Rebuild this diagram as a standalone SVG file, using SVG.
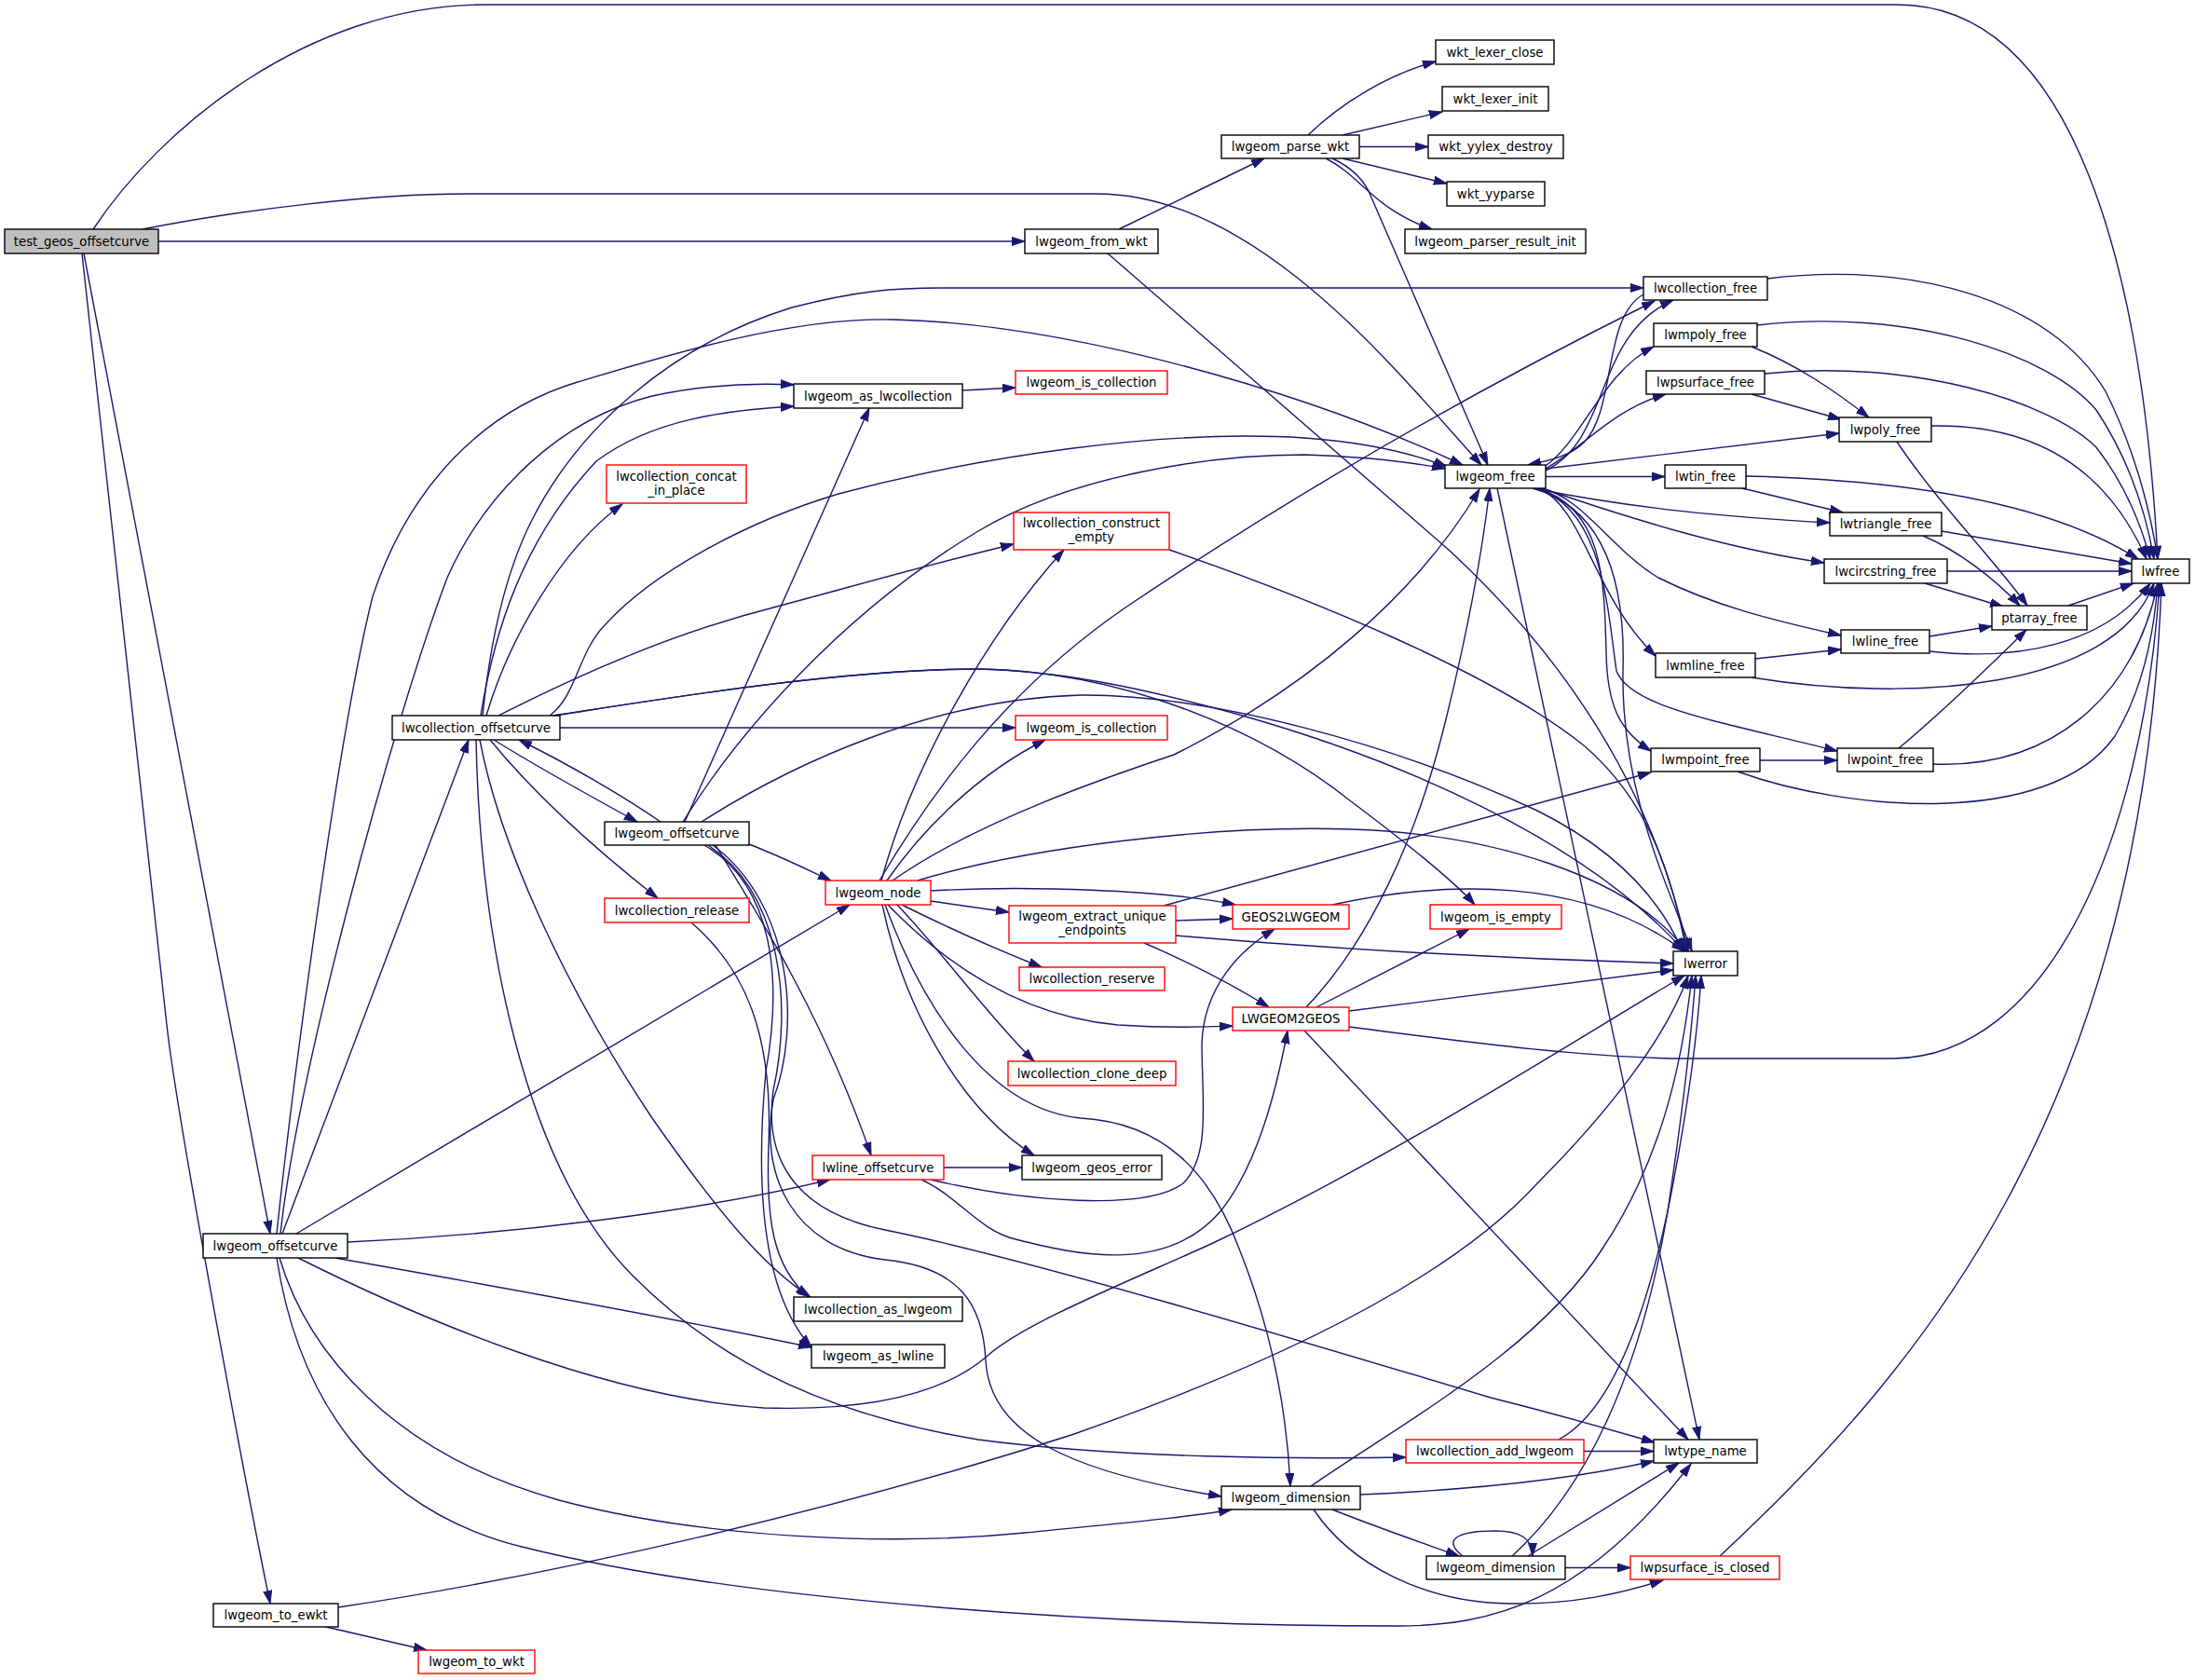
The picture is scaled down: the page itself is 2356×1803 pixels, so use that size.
<svg xmlns="http://www.w3.org/2000/svg" width="2356" height="1803" viewBox="0 0 2356 1803">
<defs>
<style>
.e{fill:none;stroke:#191970;stroke-width:1.4;marker-end:url(#a)}
.n rect{fill:#ffffff;stroke:#000000;stroke-width:1.4}
.n.r rect{stroke:#ff0000}
.n.g rect{fill:#bfbfbf}
.n text{font-family:"DejaVu Sans","Liberation Sans",sans-serif;font-size:13.3px;text-anchor:middle;fill:#000000}
</style>
<marker id="a" markerWidth="15" markerHeight="11" refX="14" refY="5" orient="auto" markerUnits="userSpaceOnUse"><path d="M0,0.5 L14,5 L0,9.5 z" fill="#191970" stroke="#191970" stroke-width="1"/></marker>
</defs>
<rect x="0" y="0" width="2356" height="1803" fill="#ffffff"/>
<g id="edges">
<path class="e" d="M100,246 C170,140 330,5 520,5 L2036,5 C2230,5 2300,300 2316,600"/>
<path class="e" d="M153,246 C260,225 400,208 500,208 L1177,208 C1350,208 1500,400 1590,499"/>
<path class="e" d="M170,259 L1100,259"/>
<path class="e" d="M90,272 L290,1324"/>
<path class="e" d="M88,272 L179,1100 C190,1200 265,1600 290,1721"/>
<path class="e" d="M1201,246 L1357,170"/>
<path class="e" d="M1189,272 L1556,591 Q1760,780 1812,1021"/>
<path class="e" d="M1404,145 C1440,110 1490,80 1541,66"/>
<path class="e" d="M1441,145 L1548,120"/>
<path class="e" d="M1459,157.5 L1533,157.5"/>
<path class="e" d="M1441,170 L1553,197"/>
<path class="e" d="M1423,170 C1460,188 1475,225 1537,246"/>
<path class="e" d="M1430,170 Q1462,185 1472,212 L1597,499"/>
<path class="e" d="M1659,505 C1730,470 1710,360 1796,322"/>
<path class="e" d="M1764,316 C1720,340 1735,440 1700,475 C1685,490 1660,495 1640,499"/>
<path class="e" d="M1659,500 C1700,470 1720,400 1775,372"/>
<path class="e" d="M1659,503 C1700,480 1730,440 1788,423"/>
<path class="e" d="M1659,503 L1974,465"/>
<path class="e" d="M1659,511.5 L1787,511.5"/>
<path class="e" d="M1645,524 C1750,545 1850,555 1964,561"/>
<path class="e" d="M1655,524 C1760,560 1860,590 1958,604"/>
<path class="e" d="M1655,524 C1700,535 1730,590 1780,620 C1840,650 1900,665 1976,682"/>
<path class="e" d="M1652,524 C1700,545 1710,640 1777,704"/>
<path class="e" d="M1650,524 C1720,545 1722,620 1724,700 C1725,760 1740,785 1772,806"/>
<path class="e" d="M1648,524 C1720,545 1725,650 1735,720 C1750,760 1850,775 1972,806"/>
<path class="e" d="M1645,524 C1720,545 1745,620 1742,720 C1740,850 1790,950 1816,1021"/>
<path class="e" d="M1607,524 L1824,1545"/>
<path class="e" d="M1897,299 C2050,280 2200,320 2260,420 C2295,490 2310,560 2316,600"/>
<path class="e" d="M1886,349 C2050,330 2200,380 2250,440 C2290,500 2305,560 2312,600"/>
<path class="e" d="M1894,401 C2050,385 2200,430 2250,480 C2285,525 2300,570 2308,600"/>
<path class="e" d="M2073,457 C2180,455 2260,500 2304,600"/>
<path class="e" d="M1874,511 C2050,515 2200,540 2295,600"/>
<path class="e" d="M2084,570 L2288,605"/>
<path class="e" d="M2090,613 L2288,613"/>
<path class="e" d="M2220,650 L2290,626"/>
<path class="e" d="M2071,699 C2170,710 2260,690 2308,626"/>
<path class="e" d="M1880,727 C2050,755 2270,740 2312,626"/>
<path class="e" d="M2075,820 C2200,825 2290,750 2316,626"/>
<path class="e" d="M1865,828 C1980,870 2200,890 2270,790 C2300,740 2312,680 2316,626"/>
<path class="e" d="M1448,1102 C1550,1115 1700,1136 1810,1136 L2030,1136 C2200,1136 2300,900 2318,626"/>
<path class="e" d="M1846,1670 C2050,1480 2300,1200 2320,626"/>
<path class="e" d="M2036,474 C2080,540 2140,600 2176,650"/>
<path class="e" d="M2064,575 C2100,590 2140,620 2168,650"/>
<path class="e" d="M2066,626 L2150,651"/>
<path class="e" d="M2071,683 L2138,672"/>
<path class="e" d="M2038,803 C2090,760 2140,710 2175,676"/>
<path class="e" d="M1880,372 C1930,392 1970,420 2006,448"/>
<path class="e" d="M1880,423 L1976,450"/>
<path class="e" d="M1870,524 L1978,550"/>
<path class="e" d="M1884,707 L1976,697"/>
<path class="e" d="M1889,816 L1972,816"/>
<path class="e" d="M1033,419 L1090,416"/>
<path class="e" d="M297,1324 C310,1200 360,800 400,640 C440,520 520,440 620,410 C720,380 850,340 960,343 C1150,348 1400,420 1570,499"/>
<path class="e" d="M301,1324 C320,1150 420,780 480,620 C520,530 600,450 700,425 C760,412 810,411 852,413"/>
<path class="e" d="M303,1324 L503,794"/>
<path class="e" d="M318,1324 L912,971"/>
<path class="e" d="M373,1333 C550,1325 750,1300 891,1266"/>
<path class="e" d="M360,1350 C500,1375 700,1410 871,1446"/>
<path class="e" d="M320,1350 C450,1415 650,1500 820,1511 C950,1515 1020,1490 1060,1455 C1100,1420 1200,1380 1300,1335 C1500,1240 1700,1110 1808,1047"/>
<path class="e" d="M300,1350 C330,1450 420,1560 600,1610 C750,1650 950,1660 1100,1645 C1200,1635 1280,1628 1322,1620"/>
<path class="e" d="M297,1350 C320,1500 400,1620 560,1660 C800,1720 1200,1745 1500,1745 C1600,1745 1700,1720 1815,1571"/>
<path class="e" d="M518,768 C525,700 540,620 570,560 C620,460 720,370 850,330 C920,312 960,309 1010,309 L1764,309"/>
<path class="e" d="M516,768 C530,680 560,580 640,495 C700,450 780,440 852,436"/>
<path class="e" d="M522,768 C545,690 600,590 668,541"/>
<path class="e" d="M590,768 C620,745 620,700 650,670 C700,615 800,560 900,530 C1050,490 1250,460 1400,470 C1470,475 1520,488 1553,501"/>
<path class="e" d="M535,768 C620,725 720,680 830,652 C920,628 1000,605 1088,584"/>
<path class="e" d="M593,768 C700,752 900,718 1050,718 C1200,720 1350,780 1450,860 C1510,905 1560,945 1583,971"/>
<path class="e" d="M595,768 C700,752 900,718 1050,718 C1150,720 1250,745 1330,767 C1500,815 1700,900 1808,1021"/>
<path class="e" d="M601,781 L1090,781"/>
<path class="e" d="M530,794 C580,825 640,858 684,882"/>
<path class="e" d="M709,882 C670,855 610,820 557,794"/>
<path class="e" d="M526,794 C580,860 650,920 706,964"/>
<path class="e" d="M515,794 C535,900 600,1050 700,1200 C770,1300 820,1360 870,1392"/>
<path class="e" d="M511,794 C515,1000 560,1250 680,1370 C780,1470 900,1520 1050,1545 C1200,1565 1400,1566 1509,1564"/>
<path class="e" d="M735,882 L933,438"/>
<path class="e" d="M733,882 C790,790 900,660 1050,570 C1150,510 1300,488 1400,488 C1460,490 1510,495 1551,503"/>
<path class="e" d="M753,882 C850,820 1000,750 1160,746 C1300,745 1500,800 1650,870 C1730,910 1780,960 1806,1021"/>
<path class="e" d="M804,906 C840,920 870,935 892,945"/>
<path class="e" d="M768,907 C800,960 880,1080 935,1240"/>
<path class="e" d="M756,907 C830,950 840,1050 822,1150 C810,1280 820,1390 871,1446"/>
<path class="e" d="M760,907 C840,960 850,1080 830,1170 C820,1240 850,1300 950,1320 C1100,1350 1400,1440 1600,1500 C1680,1520 1730,1535 1776,1548"/>
<path class="e" d="M765,907 C850,970 860,1100 830,1180 C815,1260 850,1340 950,1352 C1030,1360 1055,1400 1058,1460 C1062,1540 1150,1580 1311,1606"/>
<path class="e" d="M742,990 C800,1040 830,1110 825,1230 C822,1310 830,1360 868,1392"/>
<path class="e" d="M946,945 C980,820 1060,680 1142,590"/>
<path class="e" d="M952,945 C990,890 1050,830 1122,794"/>
<path class="e" d="M958,945 C1050,880 1200,830 1260,810 C1400,740 1520,640 1588,525"/>
<path class="e" d="M944,945 C1000,850 1080,740 1208,652 C1300,590 1500,460 1776,323"/>
<path class="e" d="M985,945 C1100,910 1300,885 1450,890 C1600,895 1750,940 1810,1021"/>
<path class="e" d="M999,956 C1100,950 1250,955 1326,971"/>
<path class="e" d="M999,967 L1083,979"/>
<path class="e" d="M968,971 C1010,992 1060,1015 1118,1038"/>
<path class="e" d="M953,971 C1010,1030 1090,1090 1200,1100 C1260,1104 1300,1102 1323,1101"/>
<path class="e" d="M963,971 C1010,1020 1060,1090 1110,1139"/>
<path class="e" d="M947,971 C970,1080 1030,1190 1110,1240"/>
<path class="e" d="M950,971 C990,1080 1060,1190 1160,1200 C1250,1205 1300,1260 1330,1340 C1370,1440 1382,1530 1385,1595"/>
<path class="e" d="M1262,988 L1323,986"/>
<path class="e" d="M1262,1004 C1450,1020 1650,1030 1796,1034"/>
<path class="e" d="M1228,1012 C1270,1030 1320,1055 1362,1081"/>
<path class="e" d="M1249,972 L1772,829"/>
<path class="e" d="M1430,971 C1550,945 1700,940 1808,1021"/>
<path class="e" d="M1402,1081 C1470,1010 1520,900 1550,780 C1575,680 1590,600 1599,524"/>
<path class="e" d="M1413,1081 L1577,997"/>
<path class="e" d="M1448,1085 L1796,1041"/>
<path class="e" d="M1400,1106 L1812,1545"/>
<path class="e" d="M1013,1253 L1097,1253"/>
<path class="e" d="M999,1266 C1100,1290 1230,1300 1270,1270 C1300,1240 1290,1180 1290,1120 C1292,1060 1330,1020 1368,997"/>
<path class="e" d="M989,1266 C1030,1285 1050,1320 1090,1330 C1150,1345 1250,1370 1310,1300 C1350,1250 1370,1170 1382,1106"/>
<path class="e" d="M1255,590 C1400,640 1600,720 1700,800 C1770,860 1795,940 1810,1021"/>
<path class="e" d="M1700,1557.5 L1775,1557.5"/>
<path class="e" d="M1673,1545 C1720,1520 1760,1440 1790,1300 C1810,1200 1822,1110 1826,1047"/>
<path class="e" d="M1407,1595 C1500,1530 1650,1450 1720,1340 C1780,1250 1805,1150 1816,1047"/>
<path class="e" d="M1460,1604 C1600,1598 1700,1585 1775,1568"/>
<path class="e" d="M1430,1620 C1480,1640 1530,1657 1566,1670"/>
<path class="e" d="M1410,1620 C1450,1680 1530,1720 1620,1721 C1690,1722 1740,1710 1785,1696"/>
<path class="e" d="M1570,1670 C1545,1650 1570,1643 1605,1643 C1630,1643 1645,1650 1645,1670"/>
<path class="e" d="M1640,1670 L1802,1570"/>
<path class="e" d="M1680,1682.5 L1750,1682.5"/>
<path class="e" d="M1623,1670 C1700,1600 1760,1480 1790,1300 C1805,1200 1815,1120 1820,1047"/>
<path class="e" d="M363,1725 C600,1690 900,1620 1150,1540 C1350,1470 1550,1380 1650,1270 C1730,1190 1790,1110 1812,1047"/>
<path class="e" d="M350,1746 L458,1771"/>
</g>
<g id="n1" class="n g"><rect x="5" y="246" width="165" height="26"/><text x="87.5" y="263.7">test_geos_offsetcurve</text></g>
<g id="n2" class="n"><rect x="1100" y="246" width="143" height="26"/><text x="1171.5" y="263.7">lwgeom_from_wkt</text></g>
<g id="n3" class="n"><rect x="1311" y="145" width="148" height="25"/><text x="1385" y="162.2">lwgeom_parse_wkt</text></g>
<g id="n4" class="n"><rect x="1541" y="43" width="127" height="26"/><text x="1604.5" y="60.7">wkt_lexer_close</text></g>
<g id="n5" class="n"><rect x="1548" y="93" width="114" height="26"/><text x="1605" y="110.7">wkt_lexer_init</text></g>
<g id="n6" class="n"><rect x="1533" y="145" width="145" height="25"/><text x="1605.5" y="162.2">wkt_yylex_destroy</text></g>
<g id="n7" class="n"><rect x="1553" y="195" width="105" height="26"/><text x="1605.5" y="212.7">wkt_yyparse</text></g>
<g id="n8" class="n"><rect x="1508" y="246" width="194" height="26"/><text x="1605" y="263.7">lwgeom_parser_result_init</text></g>
<g id="n9" class="n"><rect x="1764" y="297" width="133" height="25"/><text x="1830.5" y="314.2">lwcollection_free</text></g>
<g id="n10" class="n"><rect x="1775" y="347" width="111" height="25"/><text x="1830.5" y="364.2">lwmpoly_free</text></g>
<g id="n11" class="n"><rect x="1767" y="398" width="127" height="25"/><text x="1830.5" y="415.2">lwpsurface_free</text></g>
<g id="n12" class="n"><rect x="1974" y="448" width="99" height="26"/><text x="2023.5" y="465.7">lwpoly_free</text></g>
<g id="n13" class="n"><rect x="1551" y="499" width="108" height="25"/><text x="1605" y="516.2">lwgeom_free</text></g>
<g id="n14" class="n"><rect x="1787" y="499" width="87" height="25"/><text x="1830.5" y="516.2">lwtin_free</text></g>
<g id="n15" class="n"><rect x="1964" y="550" width="120" height="25"/><text x="2024" y="567.2">lwtriangle_free</text></g>
<g id="n16" class="n"><rect x="1958" y="600" width="132" height="26"/><text x="2024" y="617.7">lwcircstring_free</text></g>
<g id="n17" class="n"><rect x="2288" y="600" width="62" height="26"/><text x="2319" y="617.7">lwfree</text></g>
<g id="n18" class="n"><rect x="2138" y="650" width="102" height="26"/><text x="2189" y="667.7">ptarray_free</text></g>
<g id="n19" class="n"><rect x="1976" y="676" width="95" height="25"/><text x="2023.5" y="693.2">lwline_free</text></g>
<g id="n20" class="n"><rect x="1777" y="701" width="107" height="26"/><text x="1830.5" y="718.7">lwmline_free</text></g>
<g id="n21" class="n"><rect x="1772" y="803" width="117" height="25"/><text x="1830.5" y="820.2">lwmpoint_free</text></g>
<g id="n22" class="n"><rect x="1972" y="803" width="103" height="25"/><text x="2023.5" y="820.2">lwpoint_free</text></g>
<g id="n23" class="n r"><rect x="1535" y="971" width="141" height="26"/><text x="1605.5" y="988.7">lwgeom_is_empty</text></g>
<g id="n24" class="n"><rect x="1796" y="1021" width="69" height="26"/><text x="1830.5" y="1038.7">lwerror</text></g>
<g id="n25" class="n"><rect x="852" y="412" width="181" height="26"/><text x="942.5" y="429.7">lwgeom_as_lwcollection</text></g>
<g id="n26" class="n r"><rect x="1090" y="398" width="163" height="25"/><text x="1171.5" y="415.2">lwgeom_is_collection</text></g>
<g id="n27" class="n r"><rect x="651" y="499" width="150" height="41"/><text x="726" y="515.5">lwcollection_concat</text><text x="726" y="530.5">_in_place</text></g>
<g id="n28" class="n r"><rect x="1088" y="550" width="167" height="40"/><text x="1171.5" y="566">lwcollection_construct</text><text x="1171.5" y="580.5">_empty</text></g>
<g id="n29" class="n"><rect x="421" y="768" width="180" height="26"/><text x="511" y="785.7">lwcollection_offsetcurve</text></g>
<g id="n30" class="n r"><rect x="1090" y="768" width="163" height="26"/><text x="1171.5" y="785.7">lwgeom_is_collection</text></g>
<g id="n31" class="n"><rect x="649" y="882" width="155" height="25"/><text x="726.5" y="899.2">lwgeom_offsetcurve</text></g>
<g id="n32" class="n r"><rect x="886" y="945" width="113" height="26"/><text x="942.5" y="962.7">lwgeom_node</text></g>
<g id="n33" class="n r"><rect x="649" y="964" width="155" height="26"/><text x="726.5" y="981.7">lwcollection_release</text></g>
<g id="n34" class="n r"><rect x="1083" y="972" width="179" height="40"/><text x="1172.5" y="988">lwgeom_extract_unique</text><text x="1172.5" y="1003">_endpoints</text></g>
<g id="n35" class="n r"><rect x="1323" y="971" width="125" height="26"/><text x="1385.5" y="988.7">GEOS2LWGEOM</text></g>
<g id="n36" class="n r"><rect x="1094" y="1038" width="156" height="25"/><text x="1172" y="1055.2">lwcollection_reserve</text></g>
<g id="n37" class="n r"><rect x="1323" y="1081" width="125" height="25"/><text x="1385.5" y="1098.2">LWGEOM2GEOS</text></g>
<g id="n38" class="n r"><rect x="1082" y="1139" width="180" height="26"/><text x="1172" y="1156.7">lwcollection_clone_deep</text></g>
<g id="n39" class="n r"><rect x="872" y="1240" width="141" height="26"/><text x="942.5" y="1257.7">lwline_offsetcurve</text></g>
<g id="n40" class="n"><rect x="1097" y="1240" width="150" height="26"/><text x="1172" y="1257.7">lwgeom_geos_error</text></g>
<g id="n41" class="n"><rect x="218" y="1324" width="155" height="26"/><text x="295.5" y="1341.7">lwgeom_offsetcurve</text></g>
<g id="n42" class="n"><rect x="852" y="1392" width="181" height="26"/><text x="942.5" y="1409.7">lwcollection_as_lwgeom</text></g>
<g id="n43" class="n"><rect x="871" y="1443" width="143" height="25"/><text x="942.5" y="1460.2">lwgeom_as_lwline</text></g>
<g id="n44" class="n r"><rect x="1509" y="1545" width="191" height="25"/><text x="1604.5" y="1562.2">lwcollection_add_lwgeom</text></g>
<g id="n45" class="n"><rect x="1775" y="1545" width="111" height="25"/><text x="1830.5" y="1562.2">lwtype_name</text></g>
<g id="n46" class="n"><rect x="1311" y="1595" width="149" height="25"/><text x="1385.5" y="1612.2">lwgeom_dimension</text></g>
<g id="n47" class="n"><rect x="1531" y="1670" width="149" height="25"/><text x="1605.5" y="1687.2">lwgeom_dimension</text></g>
<g id="n48" class="n r"><rect x="1750" y="1670" width="160" height="25"/><text x="1830" y="1687.2">lwpsurface_is_closed</text></g>
<g id="n49" class="n"><rect x="229" y="1721" width="134" height="25"/><text x="296" y="1738.2">lwgeom_to_ewkt</text></g>
<g id="n50" class="n r"><rect x="449" y="1771" width="125" height="25"/><text x="511.5" y="1788.2">lwgeom_to_wkt</text></g>
</svg>
